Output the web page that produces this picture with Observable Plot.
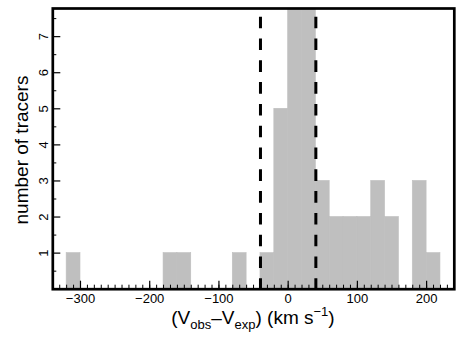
<!DOCTYPE html>
<html><head><meta charset="utf-8">
<script src="https://cdn.jsdelivr.net/npm/d3@7"></script>
<script src="https://cdn.jsdelivr.net/npm/@observablehq/plot@0.6"></script>
<style>body{margin:0;background:#fff;}</style>
</head><body><div id="chart"></div>
<script>
// Histogram bins (left edges, km/s) and counts
const binStarts = [-320, -180, -160, -80, -40, -20, 0, 20, 40, 60, 80, 100, 120, 140, 180, 200];
const counts    = [1, 1, 1, 1, 1, 5, 8, 8, 3, 2, 2, 2, 3, 2, 3, 1];
const binWidth = 20;
const dashedLines = [-40, 40];
const xMajorTicks = [-300, -200, -100, 0, 100, 200];
const xMinorTicks = d3.range(-340, 241, 10);
const yMajorTicks = [1, 2, 3, 4, 5, 6, 7];
const yMinorTicks = [0.5, 1.5, 2.5, 3.5, 4.5, 5.5, 6.5, 7.5];
const xDomain = [-340, 240];
const yDomain = [0, 7.78];
const yTitle = "number of tracers";

const bins = binStarts.map((s, i) => ({x1: s, x2: s + binWidth, count: counts[i]}));
const fmt = d => d < 0 ? "\u2212" + Math.abs(d) : String(d);
const font = "'Liberation Sans', Arial, Helvetica, sans-serif";

const svg = Plot.plot({
  width: 463, height: 343,
  marginLeft: 52.3, marginRight: 9.2, marginTop: 8, marginBottom: 54.3,
  style: {fontFamily: font, fontSize: "13px", background: "#fff", color: "#000"},
  x: {domain: xDomain},
  y: {domain: yDomain},
  marks: [
    Plot.rect(bins, {x1: "x1", x2: "x2", y1: 0, y2: "count", fill: "#bfbfbf", stroke: "#bfbfbf", strokeWidth: 0.6, clip: true}),
    Plot.ruleX(dashedLines, {stroke: "#000", strokeWidth: 3, strokeDasharray: "11.6,10.2", strokeDashoffset: 13.1}),
    Plot.axisX(xMinorTicks, {tickSize: -4, fill: "none", label: null, strokeWidth: 1}),
    Plot.axisX(xMajorTicks, {tickSize: -8, fill: "none", label: null, strokeWidth: 1.2}),
    Plot.axisX(xMajorTicks, {tickSize: 0, tickPadding: 5, tickFormat: fmt, label: null, fontSize: 13}),
    Plot.axisY(yMinorTicks, {tickSize: -4, fill: "none", label: null, strokeWidth: 1}),
    Plot.axisY(yMajorTicks, {tickSize: -8, fill: "none", label: null, strokeWidth: 1.2}),
    Plot.axisY(yMajorTicks, {tickSize: 0, tickPadding: 5, tickRotate: -90, tickFormat: fmt, label: null, fontSize: 13}),
    Plot.frame({stroke: "#000", strokeWidth: 2.7})
  ]
});

const s = d3.select(svg);
// x axis title with subscripts/superscript
const t = s.append("text")
  .attr("x", 253).attr("y", 323.5)
  .attr("text-anchor", "middle")
  .attr("font-family", font).attr("font-size", 19).attr("fill", "#000");
t.append("tspan").text("(V");
t.append("tspan").attr("dy", 5).attr("font-size", 13).text("obs");
t.append("tspan").attr("dy", -5).text("\u2013V");
t.append("tspan").attr("dy", 5).attr("font-size", 13).text("exp");
t.append("tspan").attr("dy", -5).text(") (km s");
t.append("tspan").attr("dy", -8).attr("font-size", 13).text("\u22121");
t.append("tspan").attr("dy", 8).text(")");
// y axis title
s.append("text")
  .attr("transform", "translate(28,150) rotate(-90)")
  .attr("text-anchor", "middle")
  .attr("font-family", font).attr("font-size", 19).attr("fill", "#000")
  .text(yTitle);

document.getElementById("chart").appendChild(svg);
</script>
</body></html>
